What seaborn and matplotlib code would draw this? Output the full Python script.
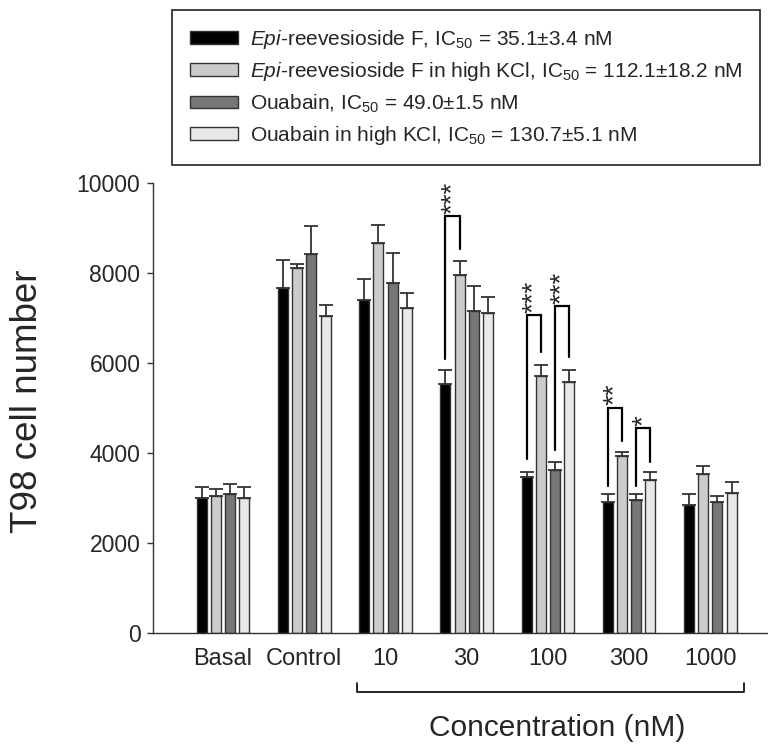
import numpy as np
import pandas as pd
import matplotlib
matplotlib.use("Agg")
import matplotlib.pyplot as plt
import seaborn as sns

# ---------------- data ----------------
groups = ["Basal", "Control", "10", "30", "100", "300", "1000"]
series = [
    r"$\mathit{Epi}$-reevesioside F, IC$_{50}$ = 35.1±3.4 nM",
    r"$\mathit{Epi}$-reevesioside F in high KCl, IC$_{50}$ = 112.1±18.2 nM",
    r"Ouabain, IC$_{50}$ = 49.0±1.5 nM",
    r"Ouabain in high KCl, IC$_{50}$ = 130.7±5.1 nM",
]
epi = [3000, 7650, 7400, 5520, 3460, 2895, 2830]
epi_kcl = [3045, 8100, 8670, 7950, 5700, 3935, 3535]
ouabain = [3075, 8425, 7770, 7160, 3610, 2955, 2895]
ouabain_kcl = [3000, 7040, 7220, 7100, 5570, 3400, 3100]

epi_err = [245, 630, 450, 315, 120, 195, 250]
epi_kcl_err = [145, 100, 395, 320, 240, 80, 165]
ouabain_err = [225, 605, 670, 540, 180, 120, 150]
ouabain_kcl_err = [245, 250, 330, 350, 260, 180, 240]

colors = ["#000000", "#cccccc", "#777777", "#e8e8e8"]

# significance brackets
sig_groups = [3, 4, 4, 5, 5]
sig_bar_a = [0, 0, 2, 0, 2]
sig_bar_b = [1, 1, 3, 1, 3]
sig_left = [6080, 3850, 4050, 3260, 3270]
sig_top = [9250, 7050, 7250, 5000, 4540]
sig_right = [8520, 6240, 6130, 4250, 3800]
sig_stars = ["***", "***", "***", "**", "*"]

yticks = [0, 2000, 4000, 6000, 8000, 10000]

# ---------------- styling ----------------
sns.set_style("ticks")
plt.rcParams["font.family"] = ["Liberation Sans", "DejaVu Sans"]
plt.rcParams["mathtext.fontset"] = "custom"
plt.rcParams["mathtext.rm"] = "Liberation Sans"
plt.rcParams["mathtext.it"] = "Liberation Sans:italic"
plt.rcParams["mathtext.bf"] = "Liberation Sans:bold"

all_vals = [epi, epi_kcl, ouabain, ouabain_kcl]
all_errs = [epi_err, epi_kcl_err, ouabain_err, ouabain_kcl_err]

rows = []
for s, vals in zip(series, all_vals):
    for g, v in zip(groups, vals):
        rows.append({"group": g, "series": s, "value": v})
df = pd.DataFrame(rows)

fig = plt.figure(figsize=(7.68, 7.45), dpi=100)
ax = fig.add_axes([153 / 768, 1 - 632.7 / 745, (768 - 153) / 768, 450 / 745])

sns.barplot(data=df, x="group", y="value", hue="series", order=groups,
            hue_order=series, palette=colors, width=0.70, gap=0.3,
            edgecolor="#333333", linewidth=1.0, errorbar=None, ax=ax,
            zorder=2)

# error bars (upper only)
for h in range(len(series)):
    cont = ax.containers[h]
    xs = [p.get_x() + p.get_width() / 2 for p in cont]
    ax.errorbar(xs, all_vals[h], yerr=[np.zeros(len(xs)), all_errs[h]],
                fmt="none", ecolor="#333333", elinewidth=1.3, capsize=4.8,
                capthick=1.3, zorder=3)

# significance brackets
for gi, a, b, yl, yt, yr, st in zip(sig_groups, sig_bar_a, sig_bar_b,
                                     sig_left, sig_top, sig_right, sig_stars):
    pa = ax.containers[a][gi]
    pb = ax.containers[b][gi]
    xa = pa.get_x() + pa.get_width() / 2
    xb = pb.get_x() + pb.get_width() / 2
    ax.plot([xa, xa, xb, xb], [yl, yt, yt, yr], color="black", lw=1.6,
            solid_joinstyle="miter", zorder=4)
    ax.text((xa + xb) / 2, yt + 60, st, rotation=90, ha="center",
            va="bottom", fontsize=20, zorder=4)

ax.set_ylim(0, 10000)
ax.set_xlim(-0.862, 6.71)
ax.set_yticks(yticks)
ax.set_yticklabels([str(t) for t in yticks])
ax.tick_params(axis="y", direction="out", length=4.5, width=1,
               labelsize=16.5, pad=4.5, color="#333333")
ax.tick_params(axis="x", length=0, labelsize=17, pad=11)
for sp in ["top", "right"]:
    ax.spines[sp].set_visible(False)
for sp in ["left", "bottom"]:
    ax.spines[sp].set_linewidth(1.0)
    ax.spines[sp].set_color("#333333")

ax.set_xlabel("")
ax.set_ylabel("T98 cell number", fontsize=26.5, va="center")
ax.yaxis.set_label_coords((28 - 153) / 615, (632.7 - 401) / 450)

# bracket for concentration range
ax.plot([1.65, 1.65, 6.42, 6.42], [-1118, -1311, -1311, -1118],
        color="black", lw=1.2, clip_on=False)
ax.text(4.11, -2118, "Concentration (nM)", ha="center", va="center",
        fontsize=21.5)

# legend
handles, labels = ax.get_legend_handles_labels()
if ax.legend_:
    ax.legend_.remove()
leg = ax.legend(handles, labels, loc="upper left",
                bbox_to_anchor=(172 / 768, 1 - 10 / 745, (760 - 172) / 768, 0),
                bbox_transform=fig.transFigure, mode="expand",
                borderaxespad=0, fontsize=15, frameon=True, fancybox=False,
                edgecolor="#222222", framealpha=1, handlelength=2.3,
                handleheight=0.55, handletextpad=0.6, labelspacing=0.45,
                borderpad=0.85)
leg.get_frame().set_linewidth(1.2)

fig.savefig("out.png", dpi=100)
